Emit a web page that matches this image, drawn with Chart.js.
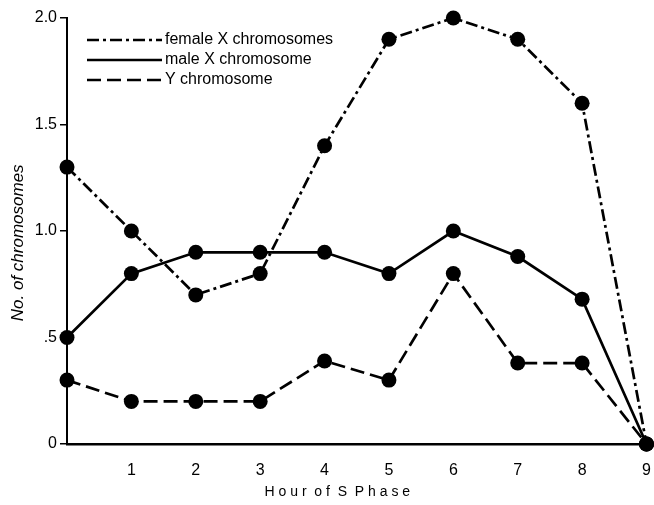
<!DOCTYPE html>
<html>
<head>
<meta charset="utf-8">
<script src="https://cdn.jsdelivr.net/npm/chart.js@4"></script>
<style>
  html, body { margin: 0; padding: 0; background: #fff; }
  #wrap { width: 654px; height: 505px; }
</style>
</head>
<body>
<div id="wrap"><canvas id="chromChart" width="654" height="505"></canvas></div>
<script>
// Data
const hours = ['0', '1', '2', '3', '4', '5', '6', '7', '8', '9'];
const femaleX = [1.3, 1.0, 0.7, 0.8, 1.4, 1.9, 2.0, 1.9, 1.6, 0];
const maleX = [0.5, 0.8, 0.9, 0.9, 0.9, 0.8, 1.0, 0.88, 0.68, 0];
const yChrom = [0.3, 0.2, 0.2, 0.2, 0.39, 0.3, 0.8, 0.38, 0.38, 0];
const yTickLabels = { 0: '0', 0.5: '.5', 1: '1.0', 1.5: '1.5', 2: '2.0' };

const FONT = '"Liberation Sans", Arial, sans-serif';

const series = [
    { label: 'female X chromosomes', data: femaleX, dash: [12, 4, 3, 4] },
    { label: 'male X chromosome', data: maleX, dash: [] },
    { label: 'Y chromosome', data: yChrom, dash: [14, 6] }
];

// legend drawn inside the plot, top left
const insideLegend = {
    id: 'insideLegend',
    afterDraw(chart) {
        const ctx = chart.ctx;
        const a = chart.chartArea;
        ctx.save();
        ctx.strokeStyle = '#000';
        ctx.fillStyle = '#000';
        ctx.lineWidth = 2.5;
        ctx.font = '16px ' + FONT;
        ctx.textBaseline = 'middle';
        series.forEach((s, i) => {
            const y = a.top + 22 + i * 20;
            ctx.setLineDash(s.dash);
            ctx.beginPath();
            ctx.moveTo(a.left + 20, y);
            ctx.lineTo(a.left + 95, y);
            ctx.stroke();
            ctx.setLineDash([]);
            ctx.fillText(s.label, a.left + 98, y);
        });
        ctx.restore();
    }
};

const ctx = document.getElementById('chromChart').getContext('2d');
const chromChart = new Chart(ctx, {
    type: 'line',
    data: {
        labels: hours,
        datasets: series.map(s => ({
            label: s.label,
            data: s.data,
            borderColor: '#000',
            backgroundColor: '#000',
            borderWidth: 2.7,
            borderDash: s.dash,
            pointRadius: 7.5,
            pointBackgroundColor: '#000',
            pointBorderWidth: 0,
            tension: 0,
            fill: false,
            clip: false
        }))
    },
    options: {
        responsive: false,
        animation: false,
        layout: { padding: { top: 18, right: 5, left: 0, bottom: 0 } },
        plugins: {
            legend: { display: false },
            tooltip: { enabled: false }
        },
        scales: {
            x: {
                offset: false,
                grid: { display: false },
                border: { display: true, color: '#000', width: 2.5 },
                ticks: {
                    color: '#000',
                    font: { family: FONT, size: 16 },
                    padding: 9,
                    maxRotation: 0,
                    autoSkip: false,
                    callback: (v, i) => (i === 0 ? '' : hours[i])
                },
                title: {
                    display: true,
                    text: 'H o u r  o f  S  P h a s e          ',
                    color: '#000',
                    font: { family: FONT, size: 14 },
                    padding: { top: 6 }
                },
                afterFit: s => { s.height = 61; s.paddingLeft = 0; s.paddingRight = 0; }
            },
            y: {
                min: 0,
                max: 2,
                grid: {
                    drawOnChartArea: false,
                    drawTicks: true,
                    tickLength: 7,
                    color: '#000',
                    lineWidth: 1.5
                },
                border: { display: true, color: '#000', width: 2 },
                ticks: {
                    stepSize: 0.5,
                    color: '#000',
                    font: { family: FONT, size: 16 },
                    padding: 3,
                    callback: v => yTickLabels[v]
                },
                title: {
                    display: true,
                    text: 'No. of chromosomes     ',
                    color: '#000',
                    font: { family: FONT, size: 17, style: 'italic' },
                    padding: { top: 8, bottom: 4 }
                },
                afterFit: s => { s.width = 67; s.paddingTop = 0; s.paddingBottom = 0; }
            }
        }
    },
    plugins: [insideLegend]
});
</script>
</body>
</html>
